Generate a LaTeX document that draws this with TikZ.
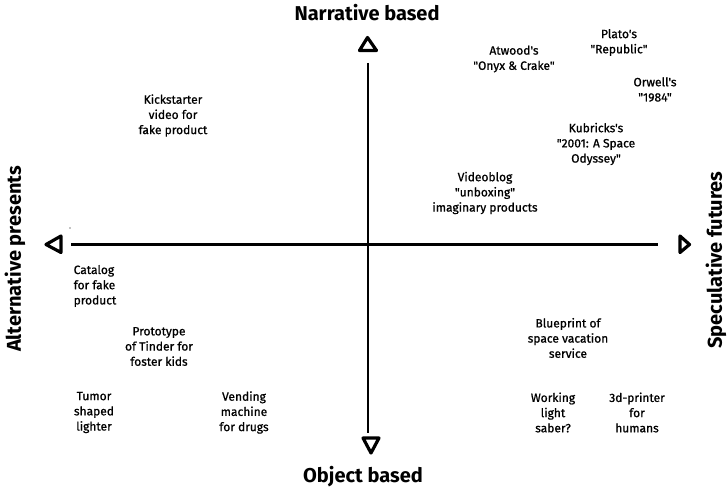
\documentclass[tikz,border=0pt]{standalone}
\usepackage{fontspec}
\setmainfont{Fira Sans}
\newfontfamily\medfont{Fira Sans}[FakeBold=0.9]
\begin{document}
\begin{tikzpicture}[x=1pt,y=-1pt,
  lbl/.style={align=center,inner sep=0pt,font=\medfont\fontsize{12}{15.2}\selectfont},
  ttl/.style={inner sep=0pt,font=\fontsize{20}{22}\selectfont\bfseries},
  axis/.style={line width=2.4pt},
  tip/.style={line width=3.2pt,line join=round}]
\useasboundingbox (0,0) rectangle (727,489);
% axes
\coordinate (L) at (71,244.5);
\coordinate (R) at (658,244.5);
\coordinate (T) at (368,63);
\coordinate (B) at (368,433);
\draw[axis] (L) -- (R);
\draw[axis] (T) -- (B);
% arrow triangles
\draw[tip] (367.5,37.5) -- (376.5,50.5) -- (359.5,50.5) -- cycle;
\draw[tip] (363,438) -- (379,438) -- (371,453) -- cycle;
\draw[tip] (46,244.5) -- (61,236) -- (61,252.5) -- cycle;
\draw[tip] (680,236) -- (689.5,244.5) -- (680,252.5) -- cycle;
\fill (70,228) circle (0.7);
% titles
\node[ttl] (nar) at (367,13) {Narrative based};
\node[ttl] (obj) at (363,477) {Object based};
\node[ttl,rotate=90] (alt) at (15,259) {Alternative presents};
\node[ttl,rotate=90] (spe) at (716,260) {Speculative futures};
% labels
\node[lbl] (plato) at (619,42.5) {Plato's\\"Republic"};
\node[lbl] (atwood) at (514,59) {Atwood's\\"Onyx \& Crake"};
\node[lbl] (orwell) at (655,89.5) {Orwell's\\"1984"};
\node[lbl] (kub) at (596,144) {Kubricks's\\"2001: A Space\\Odyssey"};
\node[lbl] (vid) at (485,193) {Videoblog\\"unboxing"\\imaginary products};
\node[lbl] (kick) at (173,115.5) {Kickstarter\\video for\\fake product};
\node[lbl,align=left] (cat) at (95,286) {Catalog\\for fake\\product};
\node[lbl] (proto) at (159,346.5) {Prototype\\of Tinder for\\foster kids};
\node[lbl] (tumor) at (94,412.5) {Tumor\\shaped\\lighter};
\node[lbl] (vend) at (244,412.5) {Vending\\machine\\for drugs};
\node[lbl] (blue) at (568,338) {Blueprint of\\space vacation\\service};
\node[lbl] (saber) at (553,412.5) {Working\\light\\saber?};
\node[lbl] (print) at (637,412.5) {3d-printer\\for\\humans};
\end{tikzpicture}
\end{document}
